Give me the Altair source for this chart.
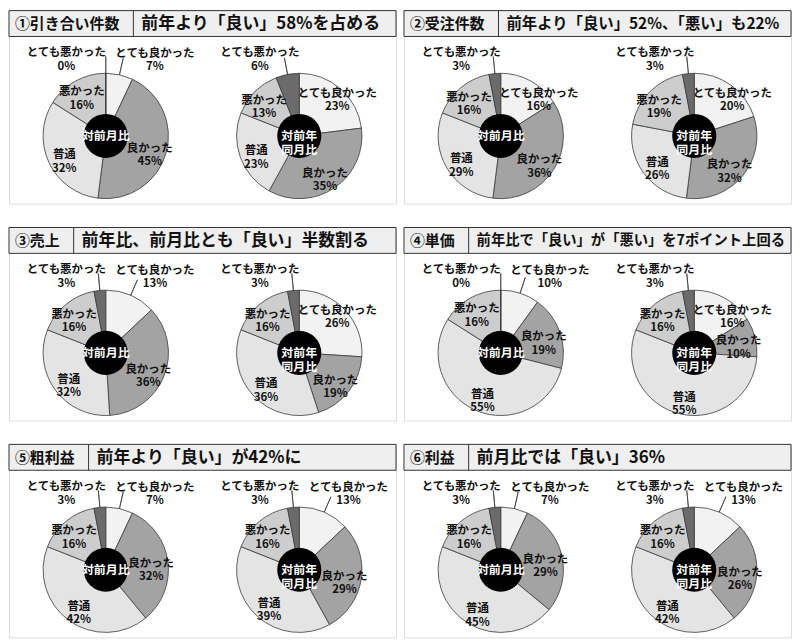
import altair as alt
import pandas as pd

CATS = ["とても良かった", "良かった", "普通", "悪かった", "とても悪かった"]
COLORS = ["#f2f2f2", "#a3a3a3", "#e4e4e4", "#cdcdcd", "#6b6b6b"]
CHARTS = ["対前月比", "対前年同月比"]
CENTER_TEXT = ["対前月比", "対前年\n同月比"]

LABELS = ["①引き合い件数", "②受注件数", "③売上", "④単価", "⑤粗利益", "⑥利益"]
HEADLINES = [
    "前年より「良い」58%を占める",
    "前年より「良い」52%、「悪い」も22%",
    "前年比、前月比とも「良い」半数割る",
    "前年比で「良い」が「悪い」を7ポイント上回る",
    "前年より「良い」が42%に",
    "前月比では「良い」36%",
]

# values in category order: とても良かった, 良かった, 普通, 悪かった, とても悪かった
MOM = [
    [7, 45, 32, 16, 0],
    [16, 36, 29, 16, 3],
    [13, 36, 32, 16, 3],
    [10, 19, 55, 16, 0],
    [7, 32, 42, 16, 3],
    [7, 29, 45, 16, 3],
]
YOY = [
    [23, 35, 23, 13, 6],
    [20, 32, 26, 19, 3],
    [26, 19, 36, 16, 3],
    [16, 10, 55, 16, 3],
    [13, 29, 39, 16, 3],
    [13, 26, 42, 16, 3],
]

FONT = "Noto Sans CJK JP"
W, H = 389, 194
BAR_H = 26
CY = 126
R_OUT = 63
R_IN = 25


def text_em(s):
    em = 0.0
    for ch in s:
        if ch.isascii():
            em += 0.9 if ch == "%" else 0.58
        else:
            em += 1.0
    return em


def panel(i):
    rows = []
    for chart, vals in ((CHARTS[0], MOM[i]), (CHARTS[1], YOY[i])):
        for k, (c, v) in enumerate(zip(CATS, vals)):
            rows.append({"chart": chart, "cat": c, "order": k, "value": v})
    df = pd.DataFrame(rows)
    cdf = pd.DataFrame({"chart": CHARTS, "ctext": CENTER_TEXT})
    one = pd.DataFrame({"label": [LABELS[i]], "head": [HEADLINES[i]]})

    xenc = alt.X("chart:N", scale=alt.Scale(type="point", domain=CHARTS, padding=0.5), axis=None)
    yv = alt.value(CY)
    tscale = alt.Scale(domain=[0, 100], range=[0, 6.283185307])

    base = (
        alt.Chart(df)
        .transform_window(end="sum(value)", groupby=["chart"], sort=[alt.SortField("order")], frame=[None, 0])
        .transform_calculate(start="datum.end - datum.value")
        .transform_calculate(mid="(datum.start + datum.end) / 2")
        .transform_calculate(mid2="datum.mid + 0.02")
        .transform_calculate(outside="datum.order == 4 || (datum.order == 0 && datum.value <= 13)")
        .transform_calculate(
            lt="datum.order == 4 ? -7.1 : (datum.order == 0 ? (datum.value <= 13 ? 8.6 : 11.7) : datum.mid)"
        )
        .transform_calculate(
            lr="datum.order == 4 ? 92 : (datum.order == 0 ? (datum.value <= 13 ? 96 : 57) : (datum.order == 3 ? 50 : 46))"
        )
        .transform_calculate(label="datum.cat + '\\n' + datum.value + '%'")
    )

    arcs = base.mark_arc(outerRadius=R_OUT, stroke="#3a3a3a", strokeWidth=0.8).encode(
        x=xenc,
        y=yv,
        theta=alt.Theta("start:Q", scale=tscale, stack=None),
        theta2="end:Q",
        color=alt.Color("cat:N", scale=alt.Scale(domain=CATS, range=COLORS), legend=None),
    )
    leaders = (
        base.transform_filter("datum.outside")
        .mark_arc(innerRadius=R_OUT, outerRadius=80, stroke="#333333", strokeWidth=0.7, fillOpacity=0)
        .encode(x=xenc, y=yv, theta=alt.Theta("mid:Q", scale=tscale, stack=None), theta2="mid2:Q")
    )
    labels = base.mark_text(
        font=FONT, fontSize=11.5, fontWeight="bold", lineBreak="\n", lineHeight=13.5, fill="#111111",
    ).encode(
        x=xenc,
        y=yv,
        theta=alt.Theta("lt:Q", scale=tscale, stack=None),
        radius=alt.Radius("lr:Q", scale=None),
        text="label:N",
    )

    circle = alt.Chart(cdf).mark_circle(size=3.14159 * R_IN * R_IN, color="black", opacity=1).encode(x=xenc, y=yv)
    ctext = alt.Chart(cdf).mark_text(
        font=FONT, fontSize=12, fontWeight="bold", color="white", lineBreak="\n", lineHeight=14
    ).encode(x=xenc, y=yv, text="ctext:N")

    lw = int(len(LABELS[i]) * 15 + 20)
    hx = lw + 8
    hsize = min(17.0, (W - hx - 6) / text_em(HEADLINES[i]))

    bar = alt.Chart(one).mark_rect(fill="#efefef", stroke="#333333", strokeWidth=1).encode(
        x=alt.value(0), x2=alt.value(W), y=alt.value(0), y2=alt.value(BAR_H)
    )
    divider = alt.Chart(one).mark_rule(stroke="#333333", strokeWidth=1).encode(
        x=alt.value(lw), y=alt.value(0), y2=alt.value(BAR_H)
    )
    t1 = alt.Chart(one).mark_text(
        font=FONT, fontSize=15, fontWeight="bold", align="left", baseline="middle", color="#111111"
    ).encode(x=alt.value(6), y=alt.value(BAR_H / 2 + 0.5), text="label:N")
    t2 = alt.Chart(one).mark_text(
        font=FONT, fontSize=hsize, fontWeight="bold", align="left", baseline="middle", color="#111111"
    ).encode(x=alt.value(hx), y=alt.value(BAR_H / 2 + 0.5), text="head:N")

    return alt.layer(bar, divider, t1, t2, arcs, leaders, circle, ctext, labels).properties(
        width=W, height=H
    )


rows = [alt.hconcat(panel(2 * r), panel(2 * r + 1), spacing=6) for r in range(3)]
chart = (
    alt.vconcat(*rows, spacing=22)
    .properties(padding=0)
    .configure_view(stroke="#333333", strokeWidth=1.5)
    .configure(font=FONT)
)

chart.save("out.html", embed_options={"renderer": "svg", "actions": False})
